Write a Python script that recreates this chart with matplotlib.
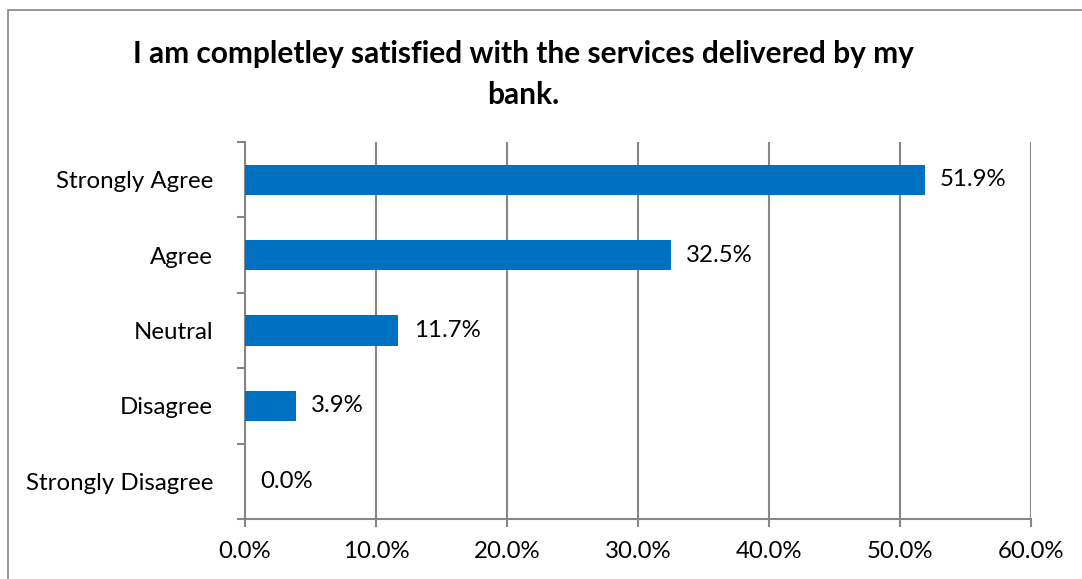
import matplotlib
matplotlib.use("Agg")
import matplotlib.pyplot as plt
from matplotlib.patches import Rectangle
from matplotlib.ticker import FuncFormatter, MultipleLocator

categories = ["Strongly Agree", "Agree", "Neutral", "Disagree", "Strongly Disagree"]
values = [51.9, 32.5, 11.7, 3.9, 0.0]
title = "I am completley satisfied with the services delivered by my\nbank."

plt.rcParams["font.family"] = ["Lato", "DejaVu Sans"]

W, H = 1082, 579
fig = plt.figure(figsize=(W / 100, H / 100), dpi=100)

# outer chart frame (extends past right and bottom edges)
fig.patches.append(Rectangle((8 / W, -0.1), 1.2, 1 - 10 / H + 0.1,
                             transform=fig.transFigure, fill=False,
                             edgecolor="#868686", linewidth=1.2))

left, right, top, bottom = 245, 1031, 142, 519
ax = fig.add_axes([left / W, 1 - bottom / H, (right - left) / W, (bottom - top) / H])

grid_color = "#868686"
label_size = 17.3
ypos = list(range(len(categories)))[::-1]
ax.barh(ypos, values, height=0.4, color="#0070C0", zorder=3)
for y, v in zip(ypos, values):
    ax.annotate(f"{v:.1f}%", (v, y), xytext=(11, 0), textcoords="offset points",
                va="center", ha="left", fontsize=label_size, color="black")

ax.set_xlim(0, 60)
ax.set_ylim(-0.5, len(categories) - 0.5)
ax.xaxis.set_major_locator(MultipleLocator(10))
ax.xaxis.set_major_formatter(FuncFormatter(lambda x, p: f"{x:.1f}%"))
ax.grid(axis="x", color=grid_color, linewidth=1.5, zorder=0)

ax.set_yticks(ypos)
ax.set_yticklabels(categories)
ax.set_yticks([i - 0.5 for i in range(len(categories) + 1)], minor=True)
ax.tick_params(axis="y", which="major", length=0, pad=23, labelsize=label_size)
ax.tick_params(axis="y", which="minor", length=6, width=1.5, color=grid_color)
ax.tick_params(axis="x", length=6, width=1.5, color=grid_color, pad=10, labelsize=label_size)

for s in ["top", "right"]:
    ax.spines[s].set_visible(False)
for s in ["left", "bottom"]:
    ax.spines[s].set_color(grid_color)
    ax.spines[s].set_linewidth(1.5)

fig.text(523 / W, 1 - 40 / H, title, ha="center", va="top", fontsize=21.5,
         fontweight="bold", linespacing=1.55)

fig.savefig("out.png", dpi=100)
